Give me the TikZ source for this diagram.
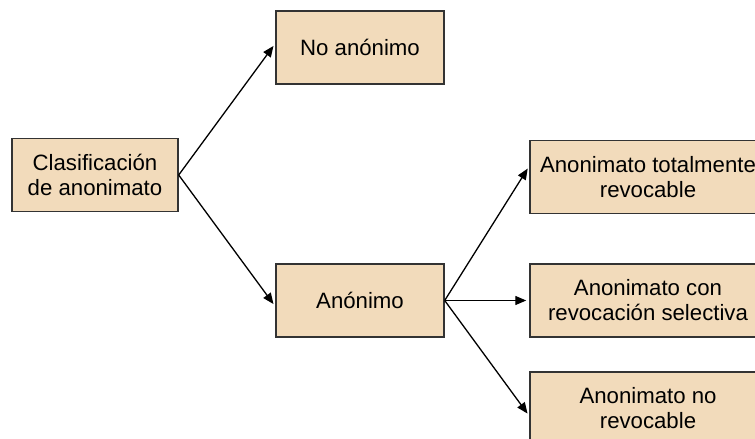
\documentclass[tikz,border=0pt]{standalone}
\usepackage{fontspec}
\setmainfont{Liberation Sans}
\usetikzlibrary{arrows.meta}
\definecolor{boxfill}{HTML}{F2DBBB}
\definecolor{boxline}{HTML}{333333}
\begin{document}
\begin{tikzpicture}[x=1pt,y=-1pt,
  box/.style={draw=boxline, fill=boxfill, line width=1.4pt, minimum width=168pt, minimum height=73pt, inner sep=0pt, align=center, font=\fontsize{22.2}{25}\selectfont},
  wide/.style={box, minimum width=236pt},
  conn/.style={line width=1.3pt, shorten >=3pt, -{Triangle[length=11pt,width=9pt]}}]
\useasboundingbox (0,0) rectangle (755,439);
\clip (0,0) rectangle (755,439);
\node[box, minimum width=166pt] (clas) at (95,175) {Clasificación\\de anonimato};
\node[box] (noan) at (360,47.5) {No anónimo};
\node[box] (anon) at (360,300.5) {Anónimo};
\node[wide] (tot) at (648,177) {Anonimato totalmente\\revocable};
\node[wide] (sel) at (648,300.5) {Anonimato con\\revocación selectiva};
\node[wide] (norev) at (648,408.5) {Anonimato no\\revocable};
\draw[conn] (clas.east) -- ([yshift=4pt]noan.west);
\draw[conn] (clas.east) -- ([yshift=-6pt]anon.west);
\draw[conn] (anon.east) -- ([yshift=11pt]tot.west);
\draw[conn] (anon.east) -- (sel.west);
\draw[conn] (anon.east) -- ([yshift=-7.5pt]norev.west);
\end{tikzpicture}
\end{document}
